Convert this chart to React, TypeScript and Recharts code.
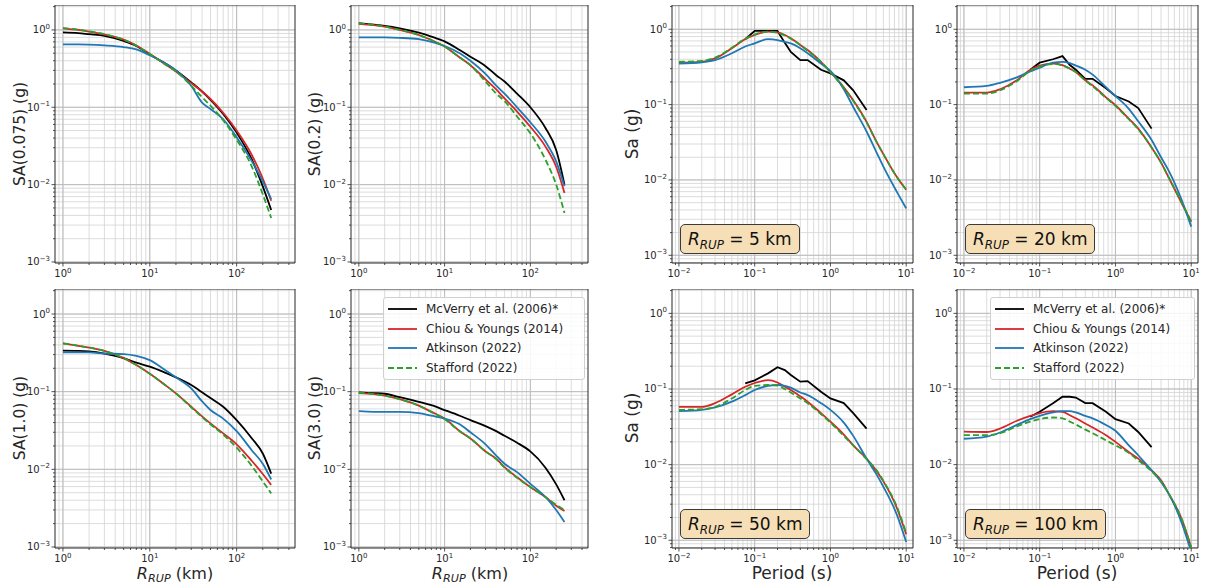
import React from "react";
import { LineChart, Line, XAxis, YAxis, CartesianGrid, ReferenceArea } from "recharts";

// x values
const distances = [1, 1.5, 2, 3, 5, 7, 10, 15, 20, 30, 40, 50, 70, 100, 150, 200, 250];
const periods = [0.01, 0.02, 0.03, 0.05, 0.075, 0.1, 0.15, 0.2, 0.25, 0.3, 0.4, 0.5, 0.75, 1, 1.5, 2, 3, 4, 5, 7.5, 10];
const mcverryPeriods = [0.075, 0.1, 0.15, 0.2, 0.25, 0.3, 0.4, 0.5, 0.75, 1, 1.5, 2, 3];

// SA(0.075) vs distance
const sa0075McVerry = [0.93, 0.91, 0.88, 0.84, 0.72, 0.62, 0.48, 0.37, 0.3, 0.21, 0.16, 0.125, 0.082, 0.047, 0.021, 0.0095, 0.0047];
const sa0075Chiou = [1.05, 1.0, 0.95, 0.87, 0.75, 0.63, 0.49, 0.36, 0.29, 0.205, 0.16, 0.128, 0.085, 0.05, 0.024, 0.012, 0.0062];
const sa0075Atkinson = [0.65, 0.65, 0.645, 0.63, 0.6, 0.56, 0.47, 0.37, 0.3, 0.19, 0.115, 0.095, 0.07, 0.041, 0.02, 0.011, 0.0065];
const sa0075Stafford = [1.06, 1.01, 0.96, 0.88, 0.75, 0.63, 0.49, 0.36, 0.29, 0.19, 0.135, 0.105, 0.068, 0.038, 0.017, 0.0075, 0.0037];

// SA(0.2)
const sa02McVerry = [1.22, 1.17, 1.13, 1.05, 0.92, 0.82, 0.71, 0.55, 0.45, 0.34, 0.26, 0.215, 0.15, 0.1, 0.054, 0.028, 0.01];
const sa02Chiou = [1.2, 1.15, 1.1, 1.0, 0.86, 0.74, 0.61, 0.44, 0.35, 0.23, 0.17, 0.13, 0.088, 0.056, 0.031, 0.017, 0.0078];
const sa02Atkinson = [0.8, 0.8, 0.8, 0.79, 0.76, 0.7, 0.62, 0.5, 0.4, 0.27, 0.19, 0.15, 0.1, 0.064, 0.036, 0.02, 0.0095];
const sa02Stafford = [1.22, 1.16, 1.1, 1.0, 0.86, 0.74, 0.61, 0.44, 0.35, 0.215, 0.15, 0.12, 0.076, 0.046, 0.021, 0.01, 0.0043];

// SA(1.0)
const sa10McVerry = [0.337, 0.335, 0.33, 0.31, 0.27, 0.236, 0.21, 0.176, 0.153, 0.122, 0.098, 0.083, 0.064, 0.043, 0.025, 0.016, 0.0088];
const sa10Chiou = [0.42, 0.39, 0.37, 0.335, 0.27, 0.22, 0.17, 0.122, 0.095, 0.064, 0.048, 0.039, 0.029, 0.021, 0.0128, 0.0087, 0.0063];
const sa10Atkinson = [0.32, 0.32, 0.32, 0.31, 0.305, 0.29, 0.255, 0.19, 0.153, 0.11, 0.075, 0.058, 0.045, 0.031, 0.0175, 0.0118, 0.0074];
const sa10Stafford = [0.42, 0.39, 0.37, 0.335, 0.27, 0.22, 0.17, 0.122, 0.095, 0.063, 0.047, 0.038, 0.028, 0.019, 0.011, 0.007, 0.0049];

// SA(3.0)
const sa30McVerry = [0.098, 0.096, 0.094, 0.085, 0.074, 0.067, 0.058, 0.049, 0.043, 0.036, 0.031, 0.027, 0.022, 0.017, 0.0105, 0.0064, 0.004];
const sa30Chiou = [0.096, 0.093, 0.089, 0.08, 0.066, 0.055, 0.045, 0.031, 0.025, 0.017, 0.0137, 0.0107, 0.0079, 0.0059, 0.0044, 0.0034, 0.0029];
const sa30Atkinson = [0.056, 0.055, 0.055, 0.055, 0.053, 0.049, 0.045, 0.038, 0.03, 0.021, 0.015, 0.0118, 0.0092, 0.0065, 0.0044, 0.003, 0.0021];
const sa30Stafford = [0.097, 0.093, 0.089, 0.08, 0.066, 0.055, 0.044, 0.031, 0.025, 0.017, 0.0135, 0.0105, 0.0078, 0.0059, 0.0044, 0.0035, 0.003];

// spectra, R_RUP = 5 km
const r5McVerry = [0.74, 0.95, 0.95, 0.95, 0.66, 0.5, 0.39, 0.39, 0.29, 0.26, 0.21, 0.155, 0.085];
const r5Chiou = [0.36, 0.37, 0.41, 0.56, 0.74, 0.84, 0.93, 0.91, 0.84, 0.76, 0.62, 0.53, 0.37, 0.27, 0.17, 0.114, 0.059, 0.033, 0.022, 0.011, 0.0074];
const r5Atkinson = [0.35, 0.365, 0.39, 0.48, 0.59, 0.65, 0.74, 0.72, 0.68, 0.65, 0.56, 0.48, 0.35, 0.28, 0.16, 0.093, 0.044, 0.024, 0.015, 0.007, 0.0042];
const r5Stafford = [0.37, 0.38, 0.42, 0.57, 0.75, 0.85, 0.93, 0.9, 0.83, 0.75, 0.62, 0.52, 0.37, 0.27, 0.165, 0.112, 0.058, 0.033, 0.022, 0.011, 0.0075];

// R_RUP = 20 km
const r20McVerry = [0.29, 0.36, 0.4, 0.44, 0.335, 0.29, 0.22, 0.22, 0.165, 0.13, 0.11, 0.09, 0.048];
const r20Chiou = [0.144, 0.144, 0.16, 0.21, 0.29, 0.33, 0.35, 0.335, 0.3, 0.27, 0.21, 0.18, 0.125, 0.098, 0.065, 0.048, 0.027, 0.017, 0.011, 0.0049, 0.0028];
const r20Atkinson = [0.17, 0.177, 0.195, 0.23, 0.275, 0.31, 0.36, 0.37, 0.355, 0.33, 0.29, 0.25, 0.17, 0.13, 0.088, 0.06, 0.034, 0.02, 0.0135, 0.0054, 0.0024];
const r20Stafford = [0.14, 0.14, 0.155, 0.205, 0.28, 0.32, 0.345, 0.33, 0.3, 0.27, 0.21, 0.175, 0.123, 0.096, 0.064, 0.047, 0.027, 0.017, 0.011, 0.005, 0.0028];

// R_RUP = 50 km
const r50McVerry = [0.119, 0.13, 0.161, 0.194, 0.178, 0.153, 0.125, 0.127, 0.092, 0.075, 0.065, 0.048, 0.03];
const r50Chiou = [0.058, 0.058, 0.065, 0.085, 0.107, 0.12, 0.131, 0.122, 0.107, 0.097, 0.08, 0.068, 0.048, 0.037, 0.025, 0.018, 0.012, 0.0084, 0.006, 0.0027, 0.0012];
const r50Atkinson = [0.051, 0.053, 0.057, 0.068, 0.083, 0.097, 0.11, 0.113, 0.11, 0.104, 0.09, 0.083, 0.065, 0.053, 0.036, 0.024, 0.012, 0.0076, 0.0051, 0.0022, 0.00095];
const r50Stafford = [0.053, 0.054, 0.058, 0.075, 0.097, 0.11, 0.113, 0.111, 0.1, 0.09, 0.075, 0.065, 0.0465, 0.036, 0.024, 0.018, 0.0118, 0.0086, 0.0061, 0.0028, 0.00125];

// R_RUP = 100 km
const r100McVerry = [0.043, 0.05, 0.065, 0.079, 0.079, 0.077, 0.065, 0.065, 0.05, 0.04, 0.035, 0.027, 0.017];
const r100Chiou = [0.0273, 0.027, 0.03, 0.038, 0.044, 0.048, 0.051, 0.05, 0.045, 0.041, 0.035, 0.031, 0.0245, 0.02, 0.0147, 0.012, 0.0084, 0.0062, 0.0042, 0.0019, 0.0008];
const r100Atkinson = [0.022, 0.0235, 0.0266, 0.0335, 0.04, 0.044, 0.049, 0.051, 0.051, 0.049, 0.044, 0.041, 0.0335, 0.028, 0.018, 0.0133, 0.0084, 0.0059, 0.0042, 0.0017, 0.0007];
const r100Stafford = [0.0246, 0.0245, 0.026, 0.032, 0.037, 0.04, 0.042, 0.041, 0.037, 0.034, 0.029, 0.026, 0.021, 0.018, 0.0143, 0.0114, 0.0082, 0.006, 0.0042, 0.0019, 0.0008];

const legendNames = ["McVerry et al. (2006)*", "Chiou & Youngs (2014)", "Atkinson (2022)", "Stafford (2022)"];
const colors = ["#000000", "#d62728", "#1f77b4", "#2ca02c"];

const FONT = '"DejaVu Sans", Verdana, sans-serif';
const INK = "#262626";

const logTicks = (lo: number, hi: number) => {
  const out: number[] = [];
  for (let e = Math.floor(Math.log10(lo)); e <= Math.ceil(Math.log10(hi)); e++) {
    for (let m = 1; m <= 9; m++) {
      const v = +(m * Math.pow(10, e)).toPrecision(6);
      if (v >= lo && v <= hi) out.push(v);
    }
  }
  return out;
};
const isDecade = (v: number) => Math.abs(Math.log10(v) - Math.round(Math.log10(v))) < 1e-6;
const expText = (v: number) => String(Math.round(Math.log10(v))).replace("-", "\u2212");

const XTick = ({ x, y, payload }: any) => {
  const major = isDecade(payload.value);
  return (
    <g>
      <line x1={x} x2={x} y1={y} y2={y + (major ? 3.5 : 2)} stroke={INK} strokeWidth={0.8} />
      {major && (
        <text x={x} y={y + 14} textAnchor="middle" fontSize={10} fill={INK} fontFamily={FONT}>
          10<tspan dy={-4.5} fontSize={7}>{expText(payload.value)}</tspan>
        </text>
      )}
    </g>
  );
};

const YTick = ({ x, y, payload }: any) => {
  const major = isDecade(payload.value);
  return (
    <g>
      <line x1={x} x2={x - (major ? 3.5 : 2)} y1={y} y2={y} stroke={INK} strokeWidth={0.8} />
      {major && (
        <text x={x - 5} y={y + 3.5} textAnchor="end" fontSize={10} fill={INK} fontFamily={FONT}>
          10<tspan dy={-4.5} fontSize={7}>{expText(payload.value)}</tspan>
        </text>
      )}
    </g>
  );
};

type Series = { xs: number[]; ys: number[]; idx: number; linear?: boolean };

const toRows = (xs: number[], ys: number[]) => xs.map((x, i) => ({ x, y: ys[i] }));

const YW = 40;
const RM = 14;
const XH = 24;

function Panel({ left, top, width, height, xDomain, yDomain, series }: {
  left: number; top: number; width: number; height: number;
  xDomain: [number, number]; yDomain: [number, number]; series: Series[];
}) {
  const xTicks = logTicks(xDomain[0], xDomain[1]);
  const yTicks = logTicks(yDomain[0], yDomain[1]);
  return (
    <div style={{ position: "absolute", left: left - YW, top }}>
      <LineChart width={YW + width + RM} height={height + XH} margin={{ top: 0, right: RM, bottom: 0, left: 0 }}>
        <CartesianGrid stroke="#d3d3d3" strokeWidth={0.8} verticalValues={xTicks} horizontalValues={yTicks} />
        <CartesianGrid stroke="#bcbcbc" strokeWidth={1} verticalValues={xTicks.filter(isDecade)} horizontalValues={yTicks.filter(isDecade)} />
        <XAxis dataKey="x" type="number" scale="log" domain={xDomain} allowDataOverflow ticks={xTicks}
          interval={0} tickSize={0} tickMargin={0} tick={<XTick />} axisLine={false} height={XH} />
        <YAxis type="number" scale="log" domain={yDomain} allowDataOverflow ticks={yTicks}
          interval={0} tickSize={0} tickMargin={0} tick={<YTick />} axisLine={false} width={YW} />
        <ReferenceArea x1={xDomain[0]} x2={xDomain[1]} y1={yDomain[0]} y2={yDomain[1]}
          fill="none" stroke={INK} strokeWidth={1} ifOverflow="visible" />
        {series.map((s) => (
          <Line key={s.idx} data={toRows(s.xs, s.ys)} dataKey="y" type={s.linear ? "linear" : "monotone"}
            stroke={colors[s.idx]} strokeWidth={1.8} strokeDasharray={s.idx === 3 ? "6 3" : undefined}
            dot={false} isAnimationActive={false} />
        ))}
      </LineChart>
    </div>
  );
}

const Rrup = () => (
  <span style={{ fontStyle: "italic" }}>
    R<span style={{ fontSize: "0.7em", position: "relative", top: "0.3em" }}>RUP</span>
  </span>
);

const YTitle = ({ x, y, size, children }: any) => (
  <div style={{ position: "absolute", left: x, top: y, transform: "translate(-50%, -50%) rotate(-90deg)",
    whiteSpace: "nowrap", fontSize: size, color: INK, fontFamily: FONT }}>{children}</div>
);

const XTitle = ({ x, y, size, children }: any) => (
  <div style={{ position: "absolute", left: x, top: y, transform: "translate(-50%, -50%)",
    whiteSpace: "nowrap", fontSize: size, color: INK, fontFamily: FONT }}>{children}</div>
);

const Note = ({ x, bottom, km }: { x: number; bottom: number; km: number }) => (
  <div style={{ position: "absolute", left: x, top: bottom - 30, height: 28, lineHeight: "28px", padding: "0 7px",
    background: "#f6dfb6", border: "1px solid #3a3a3a", borderRadius: 5, fontSize: 17, color: "#111",
    fontFamily: FONT, whiteSpace: "nowrap" }}>
    <Rrup /> = {km} km
  </div>
);

const LegendBox = ({ x, y, w }: { x: number; y: number; w: number }) => (
  <div style={{ position: "absolute", left: x, top: y, width: w, padding: "1px 0", background: "rgba(255,255,255,0.85)",
    border: "1px solid #d0d0d0", borderRadius: 3, fontFamily: FONT, fontSize: 12, color: INK }}>
    {legendNames.map((n, i) => (
      <div key={n} style={{ height: 19.7, display: "flex", alignItems: "center" }}>
        <svg width={42} height={10} style={{ flex: "none" }}>
          <line x1={4} x2={33} y1={5} y2={5} stroke={colors[i]} strokeWidth={1.8} strokeDasharray={i === 3 ? "6 3" : undefined} />
        </svg>
        <span style={{ whiteSpace: "nowrap" }}>{n}</span>
      </div>
    ))}
  </div>
);

const distDomain: [number, number] = [0.81, 470];
const distY: [number, number] = [0.00097, 2.1];
const perDomain: [number, number] = [0.0081, 12.3];
const perY: [number, number] = [0.00079, 2.1];

const distSeries = (a: number[], b: number[], c: number[], d: number[]): Series[] => [
  { xs: distances, ys: a, idx: 0 }, { xs: distances, ys: b, idx: 1 },
  { xs: distances, ys: c, idx: 2 }, { xs: distances, ys: d, idx: 3 },
];
const perSeries = (a: number[], b: number[], c: number[], d: number[]): Series[] => [
  { xs: mcverryPeriods, ys: a, idx: 0, linear: true }, { xs: periods, ys: b, idx: 1 },
  { xs: periods, ys: c, idx: 2 }, { xs: periods, ys: d, idx: 3 },
];

export default function App() {
  const r1 = { top: 5, h: 258 };
  const r2 = { top: 289, h: 259 };
  return (
    <div style={{ position: "absolute", left: 0, top: 0, width: 1206, height: 586, background: "#fff", overflow: "hidden" }}>
      <Panel left={55} top={r1.top} width={240} height={r1.h} xDomain={distDomain} yDomain={distY}
        series={distSeries(sa0075McVerry, sa0075Chiou, sa0075Atkinson, sa0075Stafford)} />
      <Panel left={351} top={r1.top} width={237} height={r1.h} xDomain={distDomain} yDomain={distY}
        series={distSeries(sa02McVerry, sa02Chiou, sa02Atkinson, sa02Stafford)} />
      <Panel left={55} top={r2.top} width={240} height={r2.h} xDomain={distDomain} yDomain={distY}
        series={distSeries(sa10McVerry, sa10Chiou, sa10Atkinson, sa10Stafford)} />
      <Panel left={351} top={r2.top} width={237} height={r2.h} xDomain={distDomain} yDomain={distY}
        series={distSeries(sa30McVerry, sa30Chiou, sa30Atkinson, sa30Stafford)} />

      <Panel left={672} top={r1.top} width={241} height={r1.h} xDomain={perDomain} yDomain={perY}
        series={perSeries(r5McVerry, r5Chiou, r5Atkinson, r5Stafford)} />
      <Panel left={957} top={r1.top} width={241} height={r1.h} xDomain={perDomain} yDomain={perY}
        series={perSeries(r20McVerry, r20Chiou, r20Atkinson, r20Stafford)} />
      <Panel left={672} top={r2.top} width={241} height={r2.h} xDomain={perDomain} yDomain={perY}
        series={perSeries(r50McVerry, r50Chiou, r50Atkinson, r50Stafford)} />
      <Panel left={957} top={r2.top} width={241} height={r2.h} xDomain={perDomain} yDomain={perY}
        series={perSeries(r100McVerry, r100Chiou, r100Atkinson, r100Stafford)} />

      <YTitle x={20} y={134} size={15.5}>SA(0.075) (g)</YTitle>
      <YTitle x={315} y={134} size={15.5}>SA(0.2) (g)</YTitle>
      <YTitle x={20} y={418} size={15.5}>SA(1.0) (g)</YTitle>
      <YTitle x={315} y={418} size={15.5}>SA(3.0) (g)</YTitle>
      <YTitle x={632} y={134} size={17}>Sa (g)</YTitle>
      <YTitle x={632} y={418} size={17}>Sa (g)</YTitle>

      <XTitle x={175} y={573} size={16}><Rrup /> (km)</XTitle>
      <XTitle x={470} y={573} size={16}><Rrup /> (km)</XTitle>
      <XTitle x={792} y={573} size={17}>Period (s)</XTitle>
      <XTitle x={1077} y={573} size={17}>Period (s)</XTitle>

      <Note x={680} bottom={254} km={5} />
      <Note x={965} bottom={254} km={20} />
      <Note x={680} bottom={539} km={50} />
      <Note x={965} bottom={539} km={100} />

      <LegendBox x={383} y={297} w={200} />
      <LegendBox x={990} y={297} w={203} />
    </div>
  );
}
